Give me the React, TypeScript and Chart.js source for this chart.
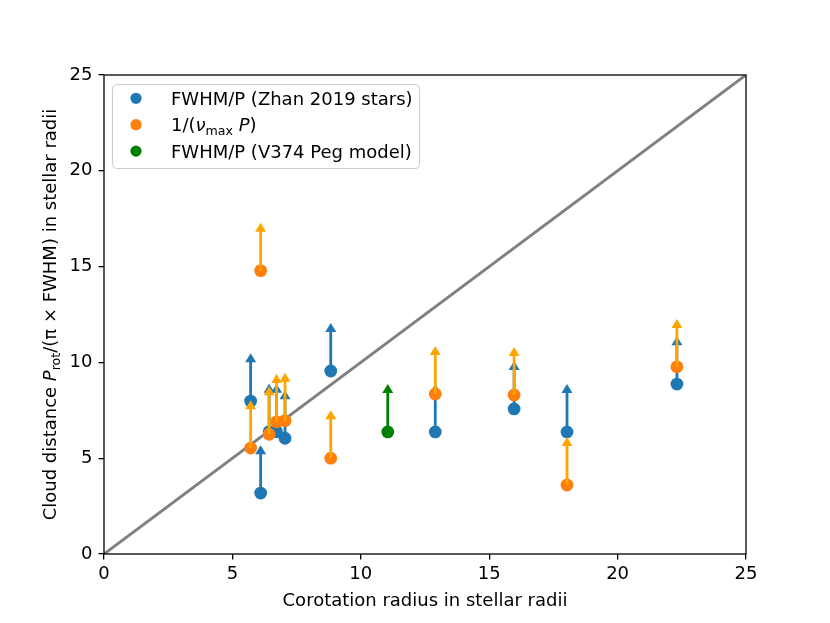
import React, { useEffect, useRef } from "react";
import { Chart, registerables } from "chart.js";

Chart.register(...registerables);

// corotation radius of each star (stellar radii)
const starRadius = [5.71, 6.1, 6.43, 6.72, 7.05, 8.83, 12.9, 15.97, 18.03, 22.31];
// cloud distance from FWHM/P (blue) and 1/(numax P) (orange)
const fwhmDistance = [7.98, 3.18, 6.38, 6.38, 6.04, 9.55, 6.37, 7.57, 6.37, 8.87];
const numaxDistance = [5.53, 14.79, 6.25, 6.9, 6.96, 5.0, 8.35, 8.3, 3.6, 9.77];
// V374 Peg model
const modelRadius = [11.05];
const modelDistance = [6.37];
// all points are lower limits, drawn as upward arrows
const arrowLength = 2.5;
// one-to-one line
const oneToOne = [0, 25];
const axisTicks = [0, 5, 10, 15, 20, 25];

const BLUE = "#1f77b4";
const ORANGE = "#ff7f0e";
const ARROW_ORANGE = "#ffa500";
const GREEN = "#008000";
const FONT = "DejaVu Sans";

type Seg = { text: string; italic?: boolean; sub?: boolean };

const segFont = (s: Seg) =>
  `${s.italic ? "italic " : ""}${s.sub ? 12.6 : 18}px "${FONT}"`;

const measureSegs = (ctx: CanvasRenderingContext2D, segs: Seg[]) =>
  segs.reduce((w, s) => {
    ctx.font = segFont(s);
    return w + ctx.measureText(s.text).width;
  }, 0);

const drawSegs = (ctx: CanvasRenderingContext2D, segs: Seg[], x: number, y: number) => {
  let cx = x;
  segs.forEach((s) => {
    ctx.font = segFont(s);
    ctx.fillText(s.text, cx, s.sub ? y + 4 : y);
    cx += ctx.measureText(s.text).width;
  });
};

const yTitle: Seg[] = [
  { text: "Cloud distance " },
  { text: "P", italic: true },
  { text: "rot", sub: true },
  { text: "/(π × FWHM) in stellar radii" },
];
const xTitle = "Corotation radius in stellar radii";

const legendItems: { color: string; segs: Seg[] }[] = [
  { color: BLUE, segs: [{ text: "FWHM/P (Zhan 2019 stars)" }] },
  {
    color: ORANGE,
    segs: [
      { text: "1/(" },
      { text: "ν", italic: true },
      { text: "max", sub: true },
      { text: " P", italic: true },
      { text: ")" },
    ],
  },
  { color: GREEN, segs: [{ text: "FWHM/P (V374 Peg model)" }] },
];

const drawArrows = (chart: any, xs: number[], ys: number[], color: string) => {
  const { ctx, scales } = chart;
  const headLen = 9;
  const headHalf = 5.5;
  const shaftHalf = 1.4;
  ctx.save();
  ctx.fillStyle = color;
  xs.forEach((xv, i) => {
    const px = scales.x.getPixelForValue(xv);
    const py0 = scales.y.getPixelForValue(ys[i]);
    const py1 = scales.y.getPixelForValue(ys[i] + arrowLength);
    ctx.beginPath();
    ctx.moveTo(px - shaftHalf, py0);
    ctx.lineTo(px - shaftHalf, py1 + headLen);
    ctx.lineTo(px - headHalf, py1 + headLen);
    ctx.lineTo(px, py1);
    ctx.lineTo(px + headHalf, py1 + headLen);
    ctx.lineTo(px + shaftHalf, py1 + headLen);
    ctx.lineTo(px + shaftHalf, py0);
    ctx.closePath();
    ctx.fill();
  });
  ctx.restore();
};

const decorPlugin = {
  id: "decor",
  afterDatasetDraw: (chart: any, args: any) => {
    if (args.index === 1) drawArrows(chart, starRadius, fwhmDistance, BLUE);
    if (args.index === 2) drawArrows(chart, starRadius, numaxDistance, ARROW_ORANGE);
    if (args.index === 3) drawArrows(chart, modelRadius, modelDistance, GREEN);
  },
  afterDraw: (chart: any) => {
    const { ctx, chartArea } = chart;
    const { left, right, top, bottom } = chartArea;
    ctx.save();
    // frame
    ctx.strokeStyle = "#000";
    ctx.lineWidth = 1.3;
    ctx.strokeRect(left, top, right - left, bottom - top);

    ctx.fillStyle = "#000";
    ctx.textAlign = "left";
    ctx.textBaseline = "alphabetic";

    // x title
    ctx.font = `18px "${FONT}"`;
    const xw = ctx.measureText(xTitle).width;
    ctx.fillText(xTitle, (left + right) / 2 - xw / 2, 605.7);

    // y title
    ctx.save();
    ctx.translate(56.4, (top + bottom) / 2);
    ctx.rotate(-Math.PI / 2);
    const yw = measureSegs(ctx, yTitle);
    drawSegs(ctx, yTitle, -yw / 2, 0);
    ctx.restore();

    // legend
    ctx.beginPath();
    ctx.roundRect(112.5, 84.5, 307, 84, 4);
    ctx.fillStyle = "rgba(255,255,255,0.8)";
    ctx.fill();
    ctx.strokeStyle = "#cccccc";
    ctx.lineWidth = 1;
    ctx.stroke();
    legendItems.forEach((item, i) => {
      const cy = 98.3 + i * 26.4;
      ctx.beginPath();
      ctx.arc(136, cy, 5.6, 0, Math.PI * 2);
      ctx.fillStyle = item.color;
      ctx.fill();
      ctx.fillStyle = "#000";
      drawSegs(ctx, item.segs, 171, cy + 6.6);
    });
    ctx.restore();
  },
};

const App: React.FC = () => {
  const chartRef = useRef<HTMLCanvasElement | null>(null);
  const chartInstance = useRef<Chart | null>(null);

  useEffect(() => {
    document.body.style.margin = "0";
    if (chartInstance.current) chartInstance.current.destroy();
    if (!chartRef.current) return;
    const ctx = chartRef.current.getContext("2d");
    if (!ctx) return;

    const pts = (xs: number[], ys: number[]) => xs.map((x, i) => ({ x, y: ys[i] }));
    const tickFont = { family: FONT, size: 18 };
    const tickGrid = {
      drawOnChartArea: false,
      drawTicks: true,
      tickLength: 5.5,
      color: "#000",
      lineWidth: 1.3,
    };

    chartInstance.current = new Chart(ctx, {
      type: "scatter",
      data: {
        datasets: [
          {
            type: "line",
            data: oneToOne.map((v) => ({ x: v, y: v })),
            borderColor: "#808080",
            borderWidth: 3,
            pointRadius: 0,
            order: 4,
          } as any,
          {
            data: pts(starRadius, fwhmDistance),
            backgroundColor: BLUE,
            borderWidth: 0,
            pointRadius: 6.4,
            order: 3,
          },
          {
            data: pts(starRadius, numaxDistance),
            backgroundColor: ORANGE,
            borderWidth: 0,
            pointRadius: 6.4,
            order: 2,
          },
          {
            data: pts(modelRadius, modelDistance),
            backgroundColor: GREEN,
            borderWidth: 0,
            pointRadius: 6.4,
            order: 1,
          },
        ],
      },
      options: {
        responsive: false,
        animation: false,
        layout: { padding: { top: 75, right: 84, left: 0, bottom: 0 } },
        plugins: { legend: { display: false }, tooltip: { enabled: false } },
        scales: {
          x: {
            type: "linear",
            min: axisTicks[0],
            max: axisTicks[axisTicks.length - 1],
            afterBuildTicks: (scale: any) => {
              scale.ticks = axisTicks.map((v) => ({ value: v }));
            },
            afterFit: (scale: any) => {
              scale.height = 69;
            },
            ticks: { font: tickFont, color: "#000", padding: 4, maxRotation: 0 },
            grid: tickGrid,
            border: { display: false },
          },
          y: {
            type: "linear",
            min: axisTicks[0],
            max: axisTicks[axisTicks.length - 1],
            afterBuildTicks: (scale: any) => {
              scale.ticks = axisTicks.map((v) => ({ value: v }));
            },
            afterFit: (scale: any) => {
              scale.width = 104;
            },
            ticks: { font: tickFont, color: "#000", padding: 6 },
            grid: tickGrid,
            border: { display: false },
          },
        },
      },
      plugins: [decorPlugin],
    });

    return () => {
      if (chartInstance.current) {
        chartInstance.current.destroy();
        chartInstance.current = null;
      }
    };
  }, []);

  return (
    <div style={{ width: 830, height: 623 }}>
      <canvas ref={chartRef} width={830} height={623}></canvas>
    </div>
  );
};

export default App;
